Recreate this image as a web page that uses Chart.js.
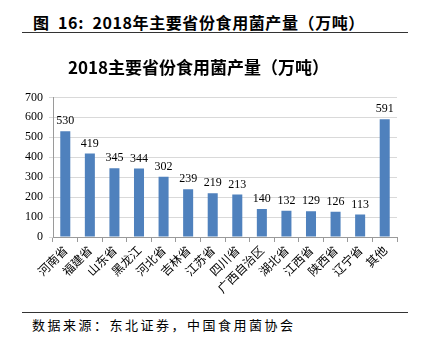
<!DOCTYPE html>
<html>
<head>
<meta charset="utf-8">
<script src="https://cdn.jsdelivr.net/npm/chart.js@4.4.0/dist/chart.umd.min.js"></script>
<style>
html,body{margin:0;padding:0;background:#fff;width:421px;height:347px;overflow:hidden;}
#hdr{position:absolute;left:33px;top:11px;font-family:"Noto Sans CJK SC";font-weight:bold;font-size:16px;line-height:22px;letter-spacing:0.6px;color:#000;white-space:nowrap;}
#l1{position:absolute;left:22px;top:32px;width:386px;height:0;border-top:1.5px solid #333;}
#l2{position:absolute;left:22px;top:312px;width:386px;height:0;border-top:1.5px solid #333;}
#ftr{position:absolute;left:32px;top:316px;font-family:"Noto Sans CJK SC";font-size:13px;line-height:18px;letter-spacing:2.5px;color:#000;white-space:nowrap;}
#wrap{position:absolute;left:0;top:42px;width:421px;height:268px;}
</style>
</head>
<body>
<div id="hdr">图&nbsp;&nbsp;16:&nbsp;&nbsp;2018年主要省份食用菌产量（万吨）</div>
<div id="l1"></div>
<div id="wrap"><canvas id="c"></canvas></div>
<div id="l2"></div>
<div id="ftr">数据来源：东北证券，中国食用菌协会</div>
<script>
const categories = ["河南省","福建省","山东省","黑龙江","河北省","吉林省","江苏省","四川省","广西自治区","湖北省","江西省","陕西省","辽宁省","其他"];
const values = [530,419,345,344,302,239,219,213,140,132,129,126,113,591];
const yTicks = [0,100,200,300,400,500,600,700];

const valueLabels = {
  id:'valueLabels',
  afterDatasetsDraw(chart){
    const ctx = chart.ctx;
    const meta = chart.getDatasetMeta(0);
    ctx.save();
    ctx.font = '12px "Liberation Serif", "DejaVu Serif", serif';
    ctx.fillStyle = '#000';
    ctx.textAlign = 'center';
    ctx.textBaseline = 'bottom';
    meta.data.forEach((bar,i)=>{
      ctx.fillText(String(values[i]), bar.x, bar.y - 4);
    });
    ctx.restore();
  }
};

new Chart(document.getElementById('c'), {
  type:'bar',
  data:{
    labels:categories,
    datasets:[{data:values, backgroundColor:'#4F81BD', borderWidth:0, barPercentage:0.85, categoryPercentage:0.48}]
  },
  options:{
    responsive:true, maintainAspectRatio:false, animation:false,
    layout:{padding:{left:0,right:24,top:0,bottom:0}},
    plugins:{
      legend:{display:false},
      tooltip:{enabled:false},
      title:{display:true, text:'2018主要省份食用菌产量（万吨）', color:'#000',
        font:{family:'"Noto Sans CJK SC"', size:17, weight:'bold', lineHeight:1.2}, padding:{top:15,bottom:20}}
    },
    scales:{
      x:{
        afterFit(axis){ axis.height = 73; },
        grid:{display:true, drawOnChartArea:false, drawTicks:true, tickLength:5, color:'#9a9a9a', offset:true},
        border:{display:true, color:'#9a9a9a'},
        ticks:{minRotation:45, maxRotation:45, autoSkip:false, color:'#000', padding:1,
          font:{family:'"Noto Sans CJK SC"', size:12}}
      },
      y:{
        min:0, max:700,
        afterFit(axis){ axis.width = 53; },
        afterBuildTicks(axis){ axis.ticks = yTicks.map(v=>({value:v})); },
        grid:{color:'#d9d9d9', tickLength:4, drawTicks:true},
        border:{display:true, color:'#9a9a9a'},
        ticks:{color:'#000', padding:6, font:{family:'"Liberation Serif", "DejaVu Serif", serif', size:12}}
      }
    }
  },
  plugins:[valueLabels]
});
</script>
</body>
</html>
